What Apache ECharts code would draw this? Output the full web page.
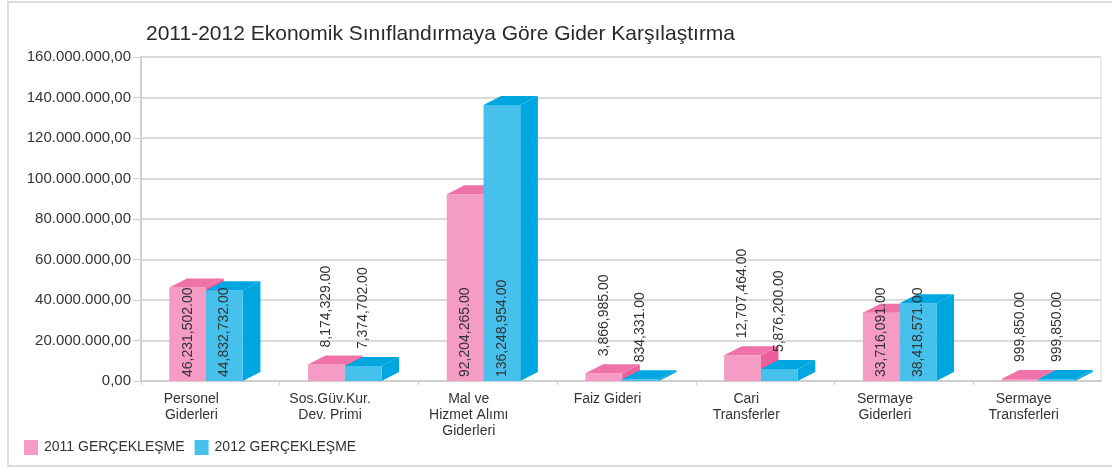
<!DOCTYPE html>
<html>
<head>
<meta charset="utf-8">
<script src="https://cdn.jsdelivr.net/npm/echarts@6/dist/echarts.min.js"></script>
<style>
    html, body { margin: 0; padding: 0; background: #fff; }
    #chart { width: 1112px; height: 469px; }
</style>
</head>
<body>
<div id="chart"></div>
<script>
    // veriler
    var categories = [
        'Personel\nGiderleri',
        'Sos.Güv.Kur.\nDev. Primi',
        'Mal ve\nHizmet Alımı\nGiderleri',
        'Faiz Gideri',
        'Cari\nTransferler',
        'Sermaye\nGiderleri',
        'Sermaye\nTransferleri'
    ];
    var values2011 = [46231502, 8174329, 92204265, 3866985, 12707464, 33716091, 999850];
    var values2012 = [44832732, 7374702, 136248954, 834331, 5876200, 38418571, 999850];
    var seriesNames = ['2011 GERÇEKLEŞME', '2012 GERÇEKLEŞME'];
    var yTicks = [0, 20000000, 40000000, 60000000, 80000000, 100000000, 120000000, 140000000, 160000000];

    var FONT = '"Liberation Sans", Arial, sans-serif';
    var colors = [
        {front: '#f49cc3', top: '#ef72a8', side: '#ec5f9d'},
        {front: '#45c1ec', top: '#00a6e0', side: '#00a6e0'}
    ];

    function groupDigits(v, sep) {
        return Math.round(v).toString().replace(/\B(?=(\d{3})+(?!\d))/g, sep);
    }

    // 3 boyutlu kutu: on yuz + ust yuz + yan yuz
    function makeRender(idx) {
        var c = colors[idx];
        return function (params, api) {
            var i = api.value(0);
            var v = api.value(1);
            var band = api.size([1, 0])[0];
            var start = api.coord([i, 0])[0] - band / 2;
            var w = band * 0.265;
            var x0 = start + band * 0.204 + idx * w;
            var x1 = x0 + w;
            var top = api.coord([i, v])[1];
            var base = api.coord([i, 0])[1];
            var dx = band * 0.127, dy = 9;
            var inside = (base - top) > 50;
            var labelY = inside ? base - 4 : top - dy - 8;
            return {
                type: 'group',
                children: [
                    {
                        type: 'polygon',
                        shape: {points: [[x1, top], [x1 + dx, top - dy], [x1 + dx, base - dy], [x1, base]]},
                        style: {fill: c.side}
                    },
                    {
                        type: 'rect',
                        shape: {x: x0, y: top, width: w, height: base - top},
                        style: {fill: c.front}
                    },
                    {
                        type: 'polygon',
                        shape: {points: [[x0, top], [x1, top], [x1 + dx, top - dy], [x0 + dx, top - dy]]},
                        style: {fill: c.top}
                    },
                    {
                        type: 'text',
                        x: x0 + w / 2,
                        y: labelY,
                        rotation: Math.PI / 2,
                        z2: 100,
                        style: {
                            text: groupDigits(v, ',') + '.00',
                            fill: '#333',
                            font: '14px ' + FONT,
                            align: 'left',
                            verticalAlign: 'middle'
                        }
                    }
                ]
            };
        };
    }

    var chart = echarts.init(document.getElementById('chart'));

    var option = {
        animation: false,
        backgroundColor: '#fff',
        textStyle: {fontFamily: FONT},
        title: {
            text: '2011-2012 Ekonomik Sınıflandırmaya Göre Gider Karşılaştırma',
            left: 141,
            top: 19,
            textStyle: {fontSize: 21, fontWeight: 'normal', color: '#2a2a2a', fontFamily: FONT}
        },
        graphic: [{
            type: 'rect',
            shape: {x: 8, y: 2, width: 1130, height: 464},
            style: {fill: 'none', stroke: '#dcdcdc', lineWidth: 2},
            silent: true
        }],
        legend: {
            left: 19,
            top: 435,
            itemWidth: 14,
            itemHeight: 15,
            itemGap: 10,
            icon: 'rect',
            data: seriesNames,
            textStyle: {fontSize: 14, color: '#333', fontFamily: FONT, padding: [0, 0, 0, 1]}
        },
        grid: [
            {left: 141, right: 11, top: 57, bottom: 88, show: true, borderColor: '#d9d9d9', borderWidth: 1},
            {left: 141, right: -23, top: 57, bottom: 88}
        ],
        xAxis: [
            {
                type: 'category', gridIndex: 0, data: categories,
                axisLine: {lineStyle: {color: '#cfcfcf', width: 2}},
                axisTick: {show: false},
                axisLabel: {show: false}
            },
            {
                type: 'category', gridIndex: 1, data: categories,
                axisLine: {show: false},
                axisTick: {show: true, length: 4, lineStyle: {color: '#cfcfcf'}},
                axisLabel: {
                    interval: 0, fontSize: 14, color: '#333', lineHeight: 16, margin: 10,
                    padding: [0, 38, 0, 0], fontFamily: FONT
                }
            }
        ],
        yAxis: [
            {
                type: 'value', gridIndex: 0, min: yTicks[0], max: yTicks[yTicks.length - 1], interval: 20000000,
                axisLine: {show: true, lineStyle: {color: '#cfcfcf', width: 2}},
                axisTick: {show: true, length: 8, lineStyle: {color: '#cfcfcf'}},
                splitLine: {lineStyle: {color: '#dadada', width: 2}},
                axisLabel: {
                    fontSize: 15, color: '#333', margin: 10, fontFamily: FONT,
                    formatter: function (v) { return groupDigits(v, '.') + ',00'; }
                }
            },
            {
                type: 'value', gridIndex: 1, min: yTicks[0], max: yTicks[yTicks.length - 1], interval: 20000000,
                show: false, splitLine: {show: false}
            }
        ],
        series: [
            {
                name: seriesNames[0], type: 'custom', xAxisIndex: 1, yAxisIndex: 1,
                itemStyle: {color: colors[0].front},
                renderItem: makeRender(0),
                data: values2011.map(function (v, i) { return [i, v]; }),
                z: 2
            },
            {
                name: seriesNames[1], type: 'custom', xAxisIndex: 1, yAxisIndex: 1,
                itemStyle: {color: colors[1].front},
                renderItem: makeRender(1),
                data: values2012.map(function (v, i) { return [i, v]; }),
                z: 3
            }
        ]
    };

    chart.setOption(option);
</script>
</body>
</html>
